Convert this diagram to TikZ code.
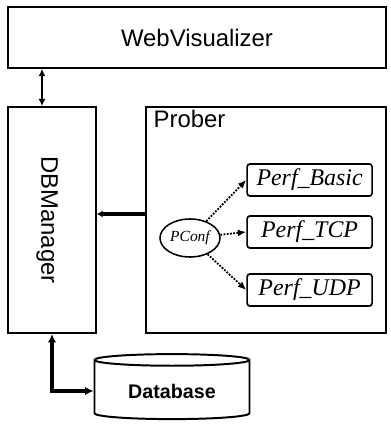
\documentclass[tikz,border=0pt]{standalone}
\usepackage{fontspec}
\usepackage{graphicx}
\setmainfont{Liberation Sans}
\newfontfamily\serifit{Liberation Serif}
\usetikzlibrary{positioning,shapes.geometric,arrows.meta}
\begin{document}
\begin{tikzpicture}[
    blocco/.style={draw,line width=1.4pt,inner sep=0pt,font=\fontsize{17}{20}\selectfont},
    perf/.style={draw,line width=1.2pt,rounded corners=2pt,minimum width=3.125cm,minimum height=0.8cm,font=\serifit\itshape\fontsize{17}{20}\selectfont},
    punti/.style={densely dotted,line width=1.3pt,-{Latex[length=6pt,width=5pt]}}]
        \useasboundingbox (0,0) rectangle (9.75,-10.6);
        %blocco WebVisualizer
        \node[blocco,minimum width=9.45cm,minimum height=1.525cm] (web) at (4.925,-0.9375) {WebVisualizer};
        %blocco DBManager
        \node[blocco,minimum width=2.2cm,minimum height=5.65cm] (dbm) at (1.3,-5.5) {\hspace{-0.25cm}\rotatebox{-90}{DBManager}};
        %blocco Prober
        \node[blocco,minimum width=6cm,minimum height=5.65cm] (prober) at (6.65,-5.5) {};
        \node[below right=3pt and 6pt of prober.north west,inner sep=0pt,font=\fontsize{17}{20}\selectfont] (plab) {Prober};
        
        %PConf e i tre test
        \node[draw,ellipse,line width=1.1pt,minimum width=1.5cm,minimum height=0.95cm,inner sep=0pt,font=\serifit\itshape\fontsize{11}{13}\selectfont] (pconf) at (4.75,-5.95) {PConf};
        \node[perf] (basic) at (7.74,-4.5) {Perf\_Basic};
        \node[perf] (tcp) at (7.74,-5.8) {Perf\_TCP};
        \node[perf] (udp) at (7.74,-7.25) {Perf\_UDP};
        \draw[punti] (pconf) -- (basic.west);
        \draw[punti] (pconf) -- (tcp.west);
        \draw[punti] (pconf) -- (udp.west);
        
        %database
        \node[draw,cylinder,shape border rotate=90,aspect=0.12,minimum width=3.875cm,minimum height=1.625cm,line width=1.4pt,font=\bfseries\fontsize{14}{17}\selectfont] (db) at (4.3,-9.775) {Database};
        
        %frecce tra i blocchi
        \coordinate (a1) at ([xshift=-0.25cm]dbm.north);
        \draw[line width=1.5pt,{Latex[length=5pt,width=5pt]}-{Latex[length=5pt,width=5pt]}] (a1) -- (a1 |- web.south);
        \coordinate (a2) at ([yshift=0.15cm]prober.west);
        \draw[line width=2.2pt,-{Latex[length=4pt,width=5pt]}] (a2) -- (a2 -| dbm.east);
        \draw[line width=2.2pt,{Latex[length=6pt,width=6pt]}-{Latex[length=6pt,width=6pt]}] (dbm.south) |- (db.west);
\end{tikzpicture}
\end{document}
